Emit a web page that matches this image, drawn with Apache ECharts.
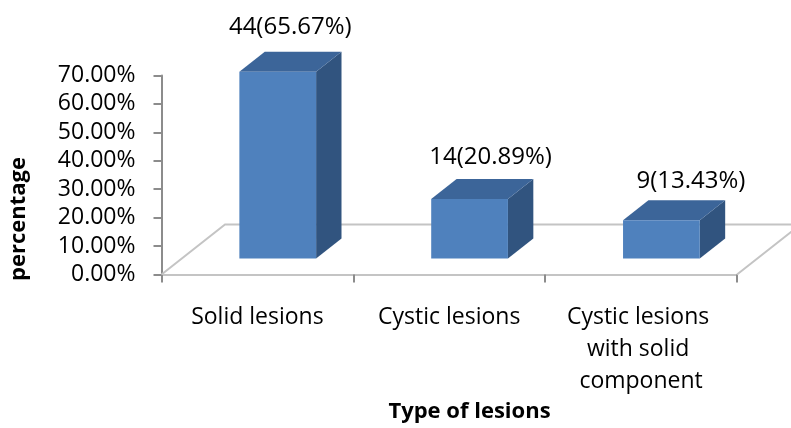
<!DOCTYPE html>
<html><head><meta charset="utf-8">
<script src="https://cdn.jsdelivr.net/npm/echarts@6/dist/echarts.min.js"></script>
<style>html,body{margin:0;padding:0;background:#fff}#c{width:791px;height:428px}</style>
</head><body><div id="c"></div>
<script>
// ---- data ----
const categories = ['Solid lesions', 'Cystic lesions', 'Cystic lesions with solid component'];
const counts = [44, 14, 9];
const percents = [65.67, 20.89, 13.43];
const yMin = 0, yMax = 70, yInterval = 10;
const xTitle = 'Type of lesions';
const yTitle = 'percentage';

// ---- style ----
const FONT = '"Open Sans", "Noto Sans", sans-serif';
const FLOOR_DX = 63.5, FLOOR_DY = 50;   // depth of the 3D floor (px)
const BAR_FRONT = 0.32, BAR_BACK = 0.72; // bar depth fractions inside the floor
const COL_FRONT = '#4f81bd', COL_TOP = '#3c6599', COL_SIDE = '#31547f';

const chart = echarts.init(document.getElementById('c'));

function renderFloor(params, api) {
  const bw = api.size([1, 0])[0];
  const a = api.coord([0, yMin]);
  const b = api.coord([categories.length - 1, yMin]);
  const L = a[0] - bw / 2, R = b[0] + bw / 2, y0 = a[1];
  return {
    type: 'polyline', silent: true,
    shape: { points: [[L, y0], [L + FLOOR_DX, y0 - FLOOR_DY], [R + FLOOR_DX, y0 - FLOOR_DY], [R, y0]] },
    style: { stroke: '#c4c4c4', lineWidth: 2, fill: null }
  };
}

function renderBar(params, api) {
  const i = api.value(0), v = api.value(1);
  const base = api.coord([i, yMin]);
  const top = api.coord([i, v]);
  const bw = api.size([1, 0])[0];
  const w = bw * 0.4;
  const x0 = base[0] - w / 2 + FLOOR_DX * BAR_FRONT, x1 = x0 + w;
  const yb = base[1] - FLOOR_DY * BAR_FRONT, yt = top[1] - FLOOR_DY * BAR_FRONT;
  const ddx = FLOOR_DX * (BAR_BACK - BAR_FRONT), ddy = FLOOR_DY * (BAR_BACK - BAR_FRONT);
  const label = counts[i] + '(' + percents[i].toFixed(2) + '%)';
  return {
    type: 'group',
    children: [
      { type: 'polygon', shape: { points: [[x1, yt], [x1 + ddx, yt - ddy], [x1 + ddx, yb - ddy], [x1, yb]] },
        style: { fill: COL_SIDE } },
      { type: 'polygon', shape: { points: [[x0, yt], [x1, yt], [x1 + ddx, yt - ddy], [x0 + ddx, yt - ddy]] },
        style: { fill: COL_TOP } },
      { type: 'rect', shape: { x: x0, y: yt, width: w, height: yb - yt },
        style: { fill: COL_FRONT } },
      { type: 'text', x: (x0 + x1) / 2 + 12.5 + 8.5 * i, y: yt - ddy - (24.5 - 2.75 * i),
        style: { text: label, fill: '#000', font: '24px ' + FONT, align: 'center', verticalAlign: 'middle' } }
    ]
  };
}

chart.setOption({
  animation: false,
  backgroundColor: '#fff',
  grid: { left: 161.5, right: 54, top: 75.5, bottom: 153.5, containLabel: false },
  xAxis: {
    type: 'category', data: categories, boundaryGap: true,
    axisLine: { show: true, lineStyle: { color: '#c4c4c4', width: 2 } },
    axisTick: { show: true, length: 8, lineStyle: { color: '#8c8c8c', width: 2 } },
    axisLabel: { color: '#000', fontFamily: FONT, fontSize: 23, lineHeight: 32, margin: 27,
      width: 180, overflow: 'break', interval: 0 }
  },
  yAxis: {
    type: 'value', min: yMin, max: yMax, interval: yInterval,
    axisLine: { show: true, lineStyle: { color: '#8c8c8c', width: 2 } },
    axisTick: { show: true, length: 8, lineStyle: { color: '#8c8c8c', width: 2 } },
    splitLine: { show: false },
    axisLabel: { color: '#000', fontFamily: FONT, fontSize: 23, margin: 26,
      formatter: v => v.toFixed(2) + '%' }
  },
  graphic: [
    { type: 'text', x: 469.5, y: 412, style: { text: xTitle, fill: '#000', font: 'bold 22px ' + FONT, align: 'center', verticalAlign: 'middle' } },
    { type: 'text', x: 19, y: 219, rotation: Math.PI / 2, style: { text: yTitle, fill: '#000', font: 'bold 22px ' + FONT, align: 'center', verticalAlign: 'middle' } }
  ],
  series: [
    { type: 'custom', renderItem: renderFloor, data: [[0, 0]], z: 1, silent: true },
    { type: 'custom', renderItem: renderBar, z: 3,
      data: percents.map((p, i) => [i, p]) }
  ]
});
</script></body></html>
